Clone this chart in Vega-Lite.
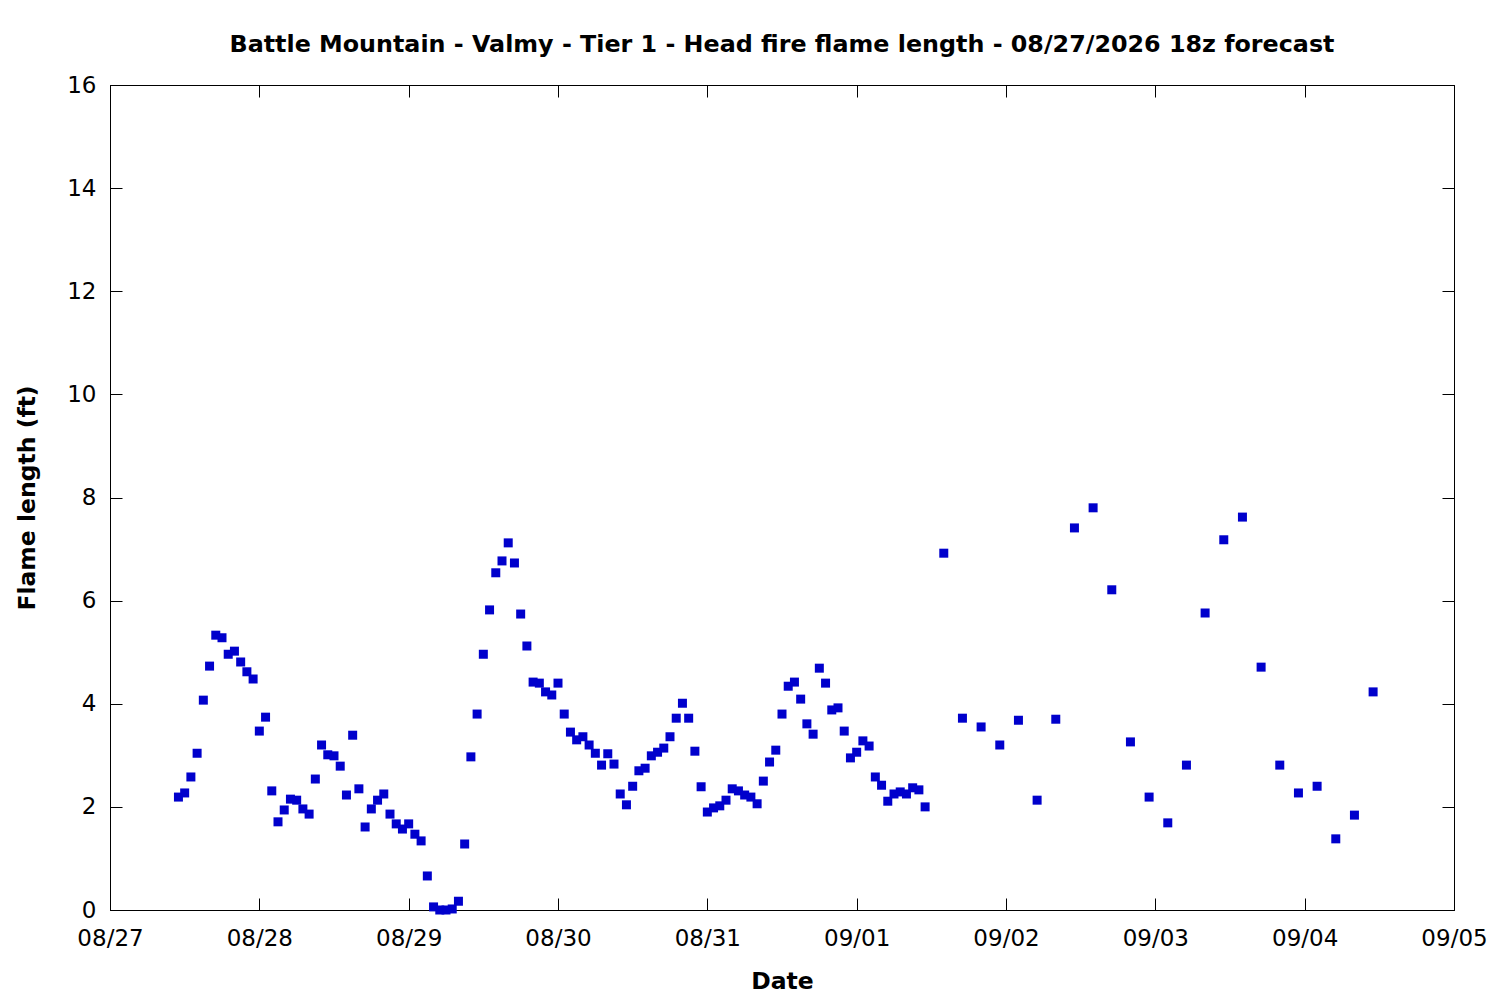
{
  "$schema": "https://vega.github.io/schema/vega-lite/v6.json",
  "description": "Head fire flame length forecast, Battle Mountain - Valmy",
  "width": 1344,
  "height": 825,
  "autosize": {"type": "none"},
  "padding": {"left": 110, "top": 85, "right": 46, "bottom": 90},
  "background": "white",
  "title": {
    "text": "Battle Mountain - Valmy - Tier 1 - Head fire flame length - 08/27/2026 18z forecast",
    "font": "DejaVu Sans",
    "fontSize": 23.8,
    "fontWeight": "bold",
    "color": "black",
    "anchor": "middle",
    "offset": 17
  },
  "config": {
    "view": {"stroke": "black", "strokeWidth": 1},
    "axis": {
      "grid": false,
      "domainColor": "black",
      "tickColor": "black",
      "tickSize": -12,
      "labelFont": "DejaVu Sans",
      "labelFontSize": 23,
      "labelColor": "black",
      "titleFont": "DejaVu Sans",
      "titleFontSize": 23.5,
      "titleFontWeight": "bold",
      "titleColor": "black"
    }
  },
  "data": {
    "values": [
      {"t": "2026-08-27T11:00:00Z", "v": 2.19},
      {"t": "2026-08-27T12:00:00Z", "v": 2.27},
      {"t": "2026-08-27T13:00:00Z", "v": 2.58},
      {"t": "2026-08-27T14:00:00Z", "v": 3.04},
      {"t": "2026-08-27T15:00:00Z", "v": 4.07},
      {"t": "2026-08-27T16:00:00Z", "v": 4.73},
      {"t": "2026-08-27T17:00:00Z", "v": 5.33},
      {"t": "2026-08-27T18:00:00Z", "v": 5.28},
      {"t": "2026-08-27T19:00:00Z", "v": 4.96},
      {"t": "2026-08-27T20:00:00Z", "v": 5.02},
      {"t": "2026-08-27T21:00:00Z", "v": 4.81},
      {"t": "2026-08-27T22:00:00Z", "v": 4.62},
      {"t": "2026-08-27T23:00:00Z", "v": 4.48},
      {"t": "2026-08-28T00:00:00Z", "v": 3.47},
      {"t": "2026-08-28T01:00:00Z", "v": 3.74},
      {"t": "2026-08-28T02:00:00Z", "v": 2.31},
      {"t": "2026-08-28T03:00:00Z", "v": 1.71},
      {"t": "2026-08-28T04:00:00Z", "v": 1.94},
      {"t": "2026-08-28T05:00:00Z", "v": 2.15},
      {"t": "2026-08-28T06:00:00Z", "v": 2.13},
      {"t": "2026-08-28T07:00:00Z", "v": 1.96},
      {"t": "2026-08-28T08:00:00Z", "v": 1.86},
      {"t": "2026-08-28T09:00:00Z", "v": 2.54},
      {"t": "2026-08-28T10:00:00Z", "v": 3.20},
      {"t": "2026-08-28T11:00:00Z", "v": 3.01},
      {"t": "2026-08-28T12:00:00Z", "v": 2.99},
      {"t": "2026-08-28T13:00:00Z", "v": 2.79},
      {"t": "2026-08-28T14:00:00Z", "v": 2.23},
      {"t": "2026-08-28T15:00:00Z", "v": 3.39},
      {"t": "2026-08-28T16:00:00Z", "v": 2.35},
      {"t": "2026-08-28T17:00:00Z", "v": 1.61},
      {"t": "2026-08-28T18:00:00Z", "v": 1.96},
      {"t": "2026-08-28T19:00:00Z", "v": 2.13},
      {"t": "2026-08-28T20:00:00Z", "v": 2.25},
      {"t": "2026-08-28T21:00:00Z", "v": 1.86},
      {"t": "2026-08-28T22:00:00Z", "v": 1.67},
      {"t": "2026-08-28T23:00:00Z", "v": 1.57},
      {"t": "2026-08-29T00:00:00Z", "v": 1.67},
      {"t": "2026-08-29T01:00:00Z", "v": 1.47},
      {"t": "2026-08-29T02:00:00Z", "v": 1.34},
      {"t": "2026-08-29T03:00:00Z", "v": 0.66},
      {"t": "2026-08-29T04:00:00Z", "v": 0.06},
      {"t": "2026-08-29T05:00:00Z", "v": 0.0},
      {"t": "2026-08-29T06:00:00Z", "v": 0.0},
      {"t": "2026-08-29T07:00:00Z", "v": 0.02},
      {"t": "2026-08-29T08:00:00Z", "v": 0.17},
      {"t": "2026-08-29T09:00:00Z", "v": 1.28},
      {"t": "2026-08-29T10:00:00Z", "v": 2.97},
      {"t": "2026-08-29T11:00:00Z", "v": 3.80},
      {"t": "2026-08-29T12:00:00Z", "v": 4.96},
      {"t": "2026-08-29T13:00:00Z", "v": 5.82},
      {"t": "2026-08-29T14:00:00Z", "v": 6.54},
      {"t": "2026-08-29T15:00:00Z", "v": 6.77},
      {"t": "2026-08-29T16:00:00Z", "v": 7.12},
      {"t": "2026-08-29T17:00:00Z", "v": 6.73},
      {"t": "2026-08-29T18:00:00Z", "v": 5.74},
      {"t": "2026-08-29T19:00:00Z", "v": 5.12},
      {"t": "2026-08-29T20:00:00Z", "v": 4.42},
      {"t": "2026-08-29T21:00:00Z", "v": 4.40},
      {"t": "2026-08-29T22:00:00Z", "v": 4.23},
      {"t": "2026-08-29T23:00:00Z", "v": 4.17},
      {"t": "2026-08-30T00:00:00Z", "v": 4.40},
      {"t": "2026-08-30T01:00:00Z", "v": 3.80},
      {"t": "2026-08-30T02:00:00Z", "v": 3.45},
      {"t": "2026-08-30T03:00:00Z", "v": 3.30},
      {"t": "2026-08-30T04:00:00Z", "v": 3.36},
      {"t": "2026-08-30T05:00:00Z", "v": 3.20},
      {"t": "2026-08-30T06:00:00Z", "v": 3.04},
      {"t": "2026-08-30T07:00:00Z", "v": 2.81},
      {"t": "2026-08-30T08:00:00Z", "v": 3.03},
      {"t": "2026-08-30T09:00:00Z", "v": 2.83},
      {"t": "2026-08-30T10:00:00Z", "v": 2.25},
      {"t": "2026-08-30T11:00:00Z", "v": 2.04},
      {"t": "2026-08-30T12:00:00Z", "v": 2.40},
      {"t": "2026-08-30T13:00:00Z", "v": 2.70},
      {"t": "2026-08-30T14:00:00Z", "v": 2.75},
      {"t": "2026-08-30T15:00:00Z", "v": 2.99},
      {"t": "2026-08-30T16:00:00Z", "v": 3.06},
      {"t": "2026-08-30T17:00:00Z", "v": 3.14},
      {"t": "2026-08-30T18:00:00Z", "v": 3.36},
      {"t": "2026-08-30T19:00:00Z", "v": 3.72},
      {"t": "2026-08-30T20:00:00Z", "v": 4.01},
      {"t": "2026-08-30T21:00:00Z", "v": 3.72},
      {"t": "2026-08-30T22:00:00Z", "v": 3.08},
      {"t": "2026-08-30T23:00:00Z", "v": 2.39},
      {"t": "2026-08-31T00:00:00Z", "v": 1.90},
      {"t": "2026-08-31T01:00:00Z", "v": 1.98},
      {"t": "2026-08-31T02:00:00Z", "v": 2.02},
      {"t": "2026-08-31T03:00:00Z", "v": 2.13},
      {"t": "2026-08-31T04:00:00Z", "v": 2.35},
      {"t": "2026-08-31T05:00:00Z", "v": 2.31},
      {"t": "2026-08-31T06:00:00Z", "v": 2.23},
      {"t": "2026-08-31T07:00:00Z", "v": 2.19},
      {"t": "2026-08-31T08:00:00Z", "v": 2.06},
      {"t": "2026-08-31T09:00:00Z", "v": 2.50},
      {"t": "2026-08-31T10:00:00Z", "v": 2.87},
      {"t": "2026-08-31T11:00:00Z", "v": 3.10},
      {"t": "2026-08-31T12:00:00Z", "v": 3.80},
      {"t": "2026-08-31T13:00:00Z", "v": 4.34},
      {"t": "2026-08-31T14:00:00Z", "v": 4.42},
      {"t": "2026-08-31T15:00:00Z", "v": 4.09},
      {"t": "2026-08-31T16:00:00Z", "v": 3.61},
      {"t": "2026-08-31T17:00:00Z", "v": 3.41},
      {"t": "2026-08-31T18:00:00Z", "v": 4.69},
      {"t": "2026-08-31T19:00:00Z", "v": 4.40},
      {"t": "2026-08-31T20:00:00Z", "v": 3.88},
      {"t": "2026-08-31T21:00:00Z", "v": 3.92},
      {"t": "2026-08-31T22:00:00Z", "v": 3.47},
      {"t": "2026-08-31T23:00:00Z", "v": 2.95},
      {"t": "2026-09-01T00:00:00Z", "v": 3.06},
      {"t": "2026-09-01T01:00:00Z", "v": 3.28},
      {"t": "2026-09-01T02:00:00Z", "v": 3.18},
      {"t": "2026-09-01T03:00:00Z", "v": 2.58},
      {"t": "2026-09-01T04:00:00Z", "v": 2.42},
      {"t": "2026-09-01T05:00:00Z", "v": 2.11},
      {"t": "2026-09-01T06:00:00Z", "v": 2.25},
      {"t": "2026-09-01T07:00:00Z", "v": 2.29},
      {"t": "2026-09-01T08:00:00Z", "v": 2.25},
      {"t": "2026-09-01T09:00:00Z", "v": 2.37},
      {"t": "2026-09-01T10:00:00Z", "v": 2.33},
      {"t": "2026-09-01T11:00:00Z", "v": 2.00},
      {"t": "2026-09-01T14:00:00Z", "v": 6.92},
      {"t": "2026-09-01T17:00:00Z", "v": 3.72},
      {"t": "2026-09-01T20:00:00Z", "v": 3.55},
      {"t": "2026-09-01T23:00:00Z", "v": 3.20},
      {"t": "2026-09-02T02:00:00Z", "v": 3.68},
      {"t": "2026-09-02T05:00:00Z", "v": 2.13},
      {"t": "2026-09-02T08:00:00Z", "v": 3.70},
      {"t": "2026-09-02T11:00:00Z", "v": 7.41},
      {"t": "2026-09-02T14:00:00Z", "v": 7.80},
      {"t": "2026-09-02T17:00:00Z", "v": 6.21},
      {"t": "2026-09-02T20:00:00Z", "v": 3.26},
      {"t": "2026-09-02T23:00:00Z", "v": 2.19},
      {"t": "2026-09-03T02:00:00Z", "v": 1.69},
      {"t": "2026-09-03T05:00:00Z", "v": 2.81},
      {"t": "2026-09-03T08:00:00Z", "v": 5.76},
      {"t": "2026-09-03T11:00:00Z", "v": 7.18},
      {"t": "2026-09-03T14:00:00Z", "v": 7.62},
      {"t": "2026-09-03T17:00:00Z", "v": 4.71},
      {"t": "2026-09-03T20:00:00Z", "v": 2.81},
      {"t": "2026-09-03T23:00:00Z", "v": 2.27},
      {"t": "2026-09-04T02:00:00Z", "v": 2.40},
      {"t": "2026-09-04T05:00:00Z", "v": 1.38},
      {"t": "2026-09-04T08:00:00Z", "v": 1.84},
      {"t": "2026-09-04T11:00:00Z", "v": 4.23}
    ]
  },
  "layer": [
    {
      "mark": {"type": "point", "shape": "square", "filled": true, "size": 81, "color": "#0000cc", "opacity": 1},
      "encoding": {
        "x": {
          "field": "t",
          "type": "temporal",
          "title": "Date",
          "scale": {"type": "utc", "domain": ["2026-08-27T00:00:00Z", "2026-09-05T00:00:00Z"]},
          "axis": {"format": "%m/%d", "tickCount": {"interval": "day", "step": 1}, "labelPadding": 29, "titlePadding": 19, "labelFlush": false, "labelOverlap": false}
        },
        "y": {
          "field": "v",
          "type": "quantitative",
          "title": "Flame length (ft)",
          "scale": {"domain": [0, 16], "nice": false},
          "axis": {"values": [0, 2, 4, 6, 8, 10, 12, 14, 16], "labelPadding": 26, "titlePadding": 27}
        }
      }
    },
    {
      "mark": {"type": "point", "opacity": 0},
      "encoding": {
        "x": {
          "field": "t",
          "type": "temporal",
          "axis": {"orient": "top", "labels": false, "title": null, "tickCount": {"interval": "day", "step": 1}}
        },
        "y": {
          "field": "v",
          "type": "quantitative",
          "axis": {"orient": "right", "labels": false, "title": null, "values": [0, 2, 4, 6, 8, 10, 12, 14, 16]}
        }
      }
    }
  ],
  "resolve": {"axis": {"x": "independent", "y": "independent"}}
}
